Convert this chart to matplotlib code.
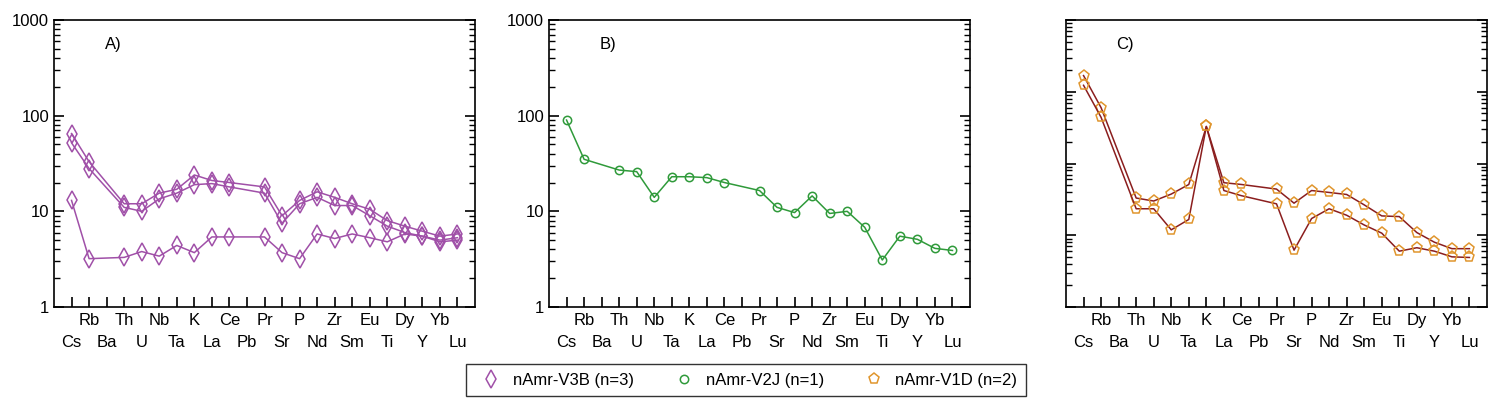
import numpy as np
import matplotlib.pyplot as plt
from matplotlib.lines import Line2D
from matplotlib.ticker import LogLocator, NullFormatter

plt.rcParams['font.family'] = ['Liberation Sans', 'DejaVu Sans']

elements = ['Cs', 'Rb', 'Ba', 'Th', 'U', 'Nb', 'Ta', 'K', 'La', 'Ce', 'Pb', 'Pr',
            'Sr', 'P', 'Nd', 'Zr', 'Sm', 'Eu', 'Ti', 'Dy', 'Y', 'Yb', 'Lu']
nan = np.nan

# panel A: nAmr-V3B (3 samples)
a1 = [65, 33, nan, 12, 12, 15.5, 17, 24, 21, 20, nan, 18, 9, 13, 16, 14, 12, 10.5, 8, 7, 6.2, 5.5, 5.8]
a2 = [52, 28, nan, 11, 10, 13.5, 15.5, 19, 19.5, 18, nan, 15.5, 7.5, 12, 14, 11.5, 11.5, 9, 7, 6, 5.5, 5, 5.3]
a3 = [13, 3.2, nan, 3.3, 3.8, 3.4, 4.4, 3.7, 5.4, 5.4, nan, 5.4, 3.7, 3.2, 5.8, 5.2, 5.8, 5.3, 4.8, 5.8, 5.5, 4.8, 5.0]
# panel B: nAmr-V2J (1 sample)
b1 = [90, 35, nan, 27, 26, 14, 23, 23, 22.5, 20, nan, 16.5, 11, 9.7, 14.5, 9.5, 10, 6.8, 3.1, 5.5, 5.1, 4.1, 3.9]
# panel C: nAmr-V1D (2 samples)
c1 = [168, 60, nan, 3.3, 3.0, 3.75, 5.1, 32.8, 5.4, 5.1, nan, 4.4, 2.8, 4.2, 3.95, 3.7, 2.65, 1.86, 1.82, 1.09, 0.80, 0.65, 0.65]
c2 = [123, 44, nan, 2.34, 2.34, 1.19, 1.66, 32.8, 4.2, 3.56, nan, 2.74, 0.62, 1.71, 2.34, 1.9, 1.39, 1.07, 0.60, 0.67, 0.60, 0.50, 0.49]

purple = '#a050a8'
green = '#2f9a3a'
cline = '#8b1e1e'
corange = '#e0962e'

fig = plt.figure(figsize=(14.99, 4.04), dpi=100)
boxes = [(54, 475), (549, 970), (1066, 1487)]
axes = []
for (l, r) in boxes:
    ax = fig.add_axes([l / 1499, 1 - 307 / 404, (r - l) / 1499, 287 / 404])
    axes.append(ax)

x = np.arange(len(elements))

def plot_series(ax, y, color, mcolor, marker, ms):
    y = np.array(y, dtype=float)
    m = ~np.isnan(y)
    ax.plot(x[m], y[m], color=color, lw=1.1, marker=marker, ms=ms,
            mfc='none', mec=mcolor, mew=1.1)

for y in (a1, a2, a3):
    plot_series(axes[0], y, purple, purple, 'd', 9)
plot_series(axes[1], b1, green, green, 'o', 6)
for y in (c1, c2):
    plot_series(axes[2], y, cline, corange, 'p', 8)

for i, ax in enumerate(axes):
    ax.set_yscale('log')
    if i < 2:
        ax.set_ylim(1, 1000)
        ax.set_yticks([1, 10, 100, 1000])
        ax.set_yticklabels(['1', '10', '100', '1000'], fontsize=12)
    else:
        ax.set_ylim(0.1, 1000)
        ax.yaxis.set_major_formatter(NullFormatter())
    ax.yaxis.set_minor_locator(LogLocator(subs=np.arange(2, 10), numticks=20))
    ax.yaxis.set_minor_formatter(NullFormatter())
    ax.set_xlim(-1, 23)
    # upper row of labels on major ticks, lower row on minor ticks
    ax.set_xticks(x[1::2])
    ax.set_xticklabels(elements[1::2], fontsize=12)
    ax.set_xticks(x[0::2], minor=True)
    ax.set_xticklabels(elements[0::2], minor=True, fontsize=12)
    ax.tick_params(axis='both', which='major', direction='in', length=7, width=1.2, right=True)
    ax.tick_params(axis='y', which='minor', direction='in', length=4, width=1, right=True)
    ax.tick_params(axis='x', which='major', pad=4)
    ax.tick_params(axis='x', which='minor', direction='in', length=7, width=1.2, pad=20)
    for s in ax.spines.values():
        s.set_linewidth(1.2)
    ax.text(0.12, 0.9, 'ABC'[i] + ')', transform=ax.transAxes, fontsize=12)

handles = [
    Line2D([], [], ls='none', marker='d', ms=9, mfc='none', mec=purple, mew=1.1, label='nAmr-V3B (n=3)'),
    Line2D([], [], ls='none', marker='o', ms=6, mfc='none', mec=green, mew=1.1, label='nAmr-V2J (n=1)'),
    Line2D([], [], ls='none', marker='p', ms=8, mfc='none', mec=corange, mew=1.1, label='nAmr-V1D (n=2)'),
]
leg = fig.legend(handles=handles, loc='center', bbox_to_anchor=(746 / 1499, 1 - 380 / 404),
                 ncol=3, fontsize=12, frameon=True, fancybox=False, edgecolor='black',
                 handletextpad=0.3, columnspacing=2.0, borderpad=0.5)
leg.get_frame().set_linewidth(1.0)

fig.savefig('out.png', dpi=100)
